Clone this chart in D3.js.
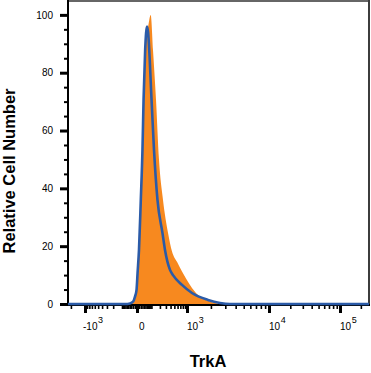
<!DOCTYPE html>
<html>
<head>
<meta charset="utf-8">
<script src="https://cdn.jsdelivr.net/npm/d3@7"></script>
<style>
  body { margin: 0; background: #fff; }
  svg { display: block; font-family: "Liberation Sans", Arial, sans-serif; }
</style>
</head>
<body>
<div id="chart"></div>
<script>
// histogram: fluorescence value -> relative count
var stainedX = [-60, -20, -5, 3, 10, 20, 30, 37, 50, 75, 93, 115, 149, 187, 248, 343, 436, 581, 766, 1093, 1381, 1739, 2246, 2973];
var stainedY = [0, 0.5, 3.5, 11, 18.7, 36, 53.3, 70.6, 88, 97, 100, 88, 70.6, 50, 36, 24.6, 18.2, 14.6, 11.2, 6.6, 3.1, 1.4, 0.35, 0];

var controlX = [-2300, -74, -38, -20, -10, -2.3, 3, 10, 20, 30, 37, 48, 62, 70, 101, 126, 167, 239, 283, 387, 462, 766, 1159, 1841, 2585, 3418, 262144];
var controlY = [0, 0, 0.2, 0.8, 2.5, 4.8, 11, 18.7, 36, 53.3, 70.6, 88, 96, 94, 70.6, 53.3, 36, 24.6, 18.7, 11.8, 10, 6.6, 3.8, 1.4, 0.35, 0, 0];

var yMajor = [0, 20, 40, 60, 80, 100];
var xMajor = [-1000, 0, 1000, 10000, 100000];
var xLabels = [["-10", "3"], ["0", ""], ["10", "3"], ["10", "4"], ["10", "5"]];

var w = 371, h = 373;
var svg = d3.select("#chart").append("svg").attr("width", w).attr("height", h);

// biexponential-ish axis: symlog pieces pinned to the decade positions
var x = d3.scaleSymlog().constant(100)
    .domain([-2300, -1000, 0, 1000, 10000, 100000, 262144])
    .range([68, 85, 137, 187, 269, 340, 369]);
var y = d3.scaleLinear().domain([0, 104.8]).range([304, 1]);

var stained = stainedX.map(function(d, i) { return [d, stainedY[i]]; });
var control = controlX.map(function(d, i) { return [d, controlY[i]]; });

// frame top + right
svg.append("line").attr("x1", 68).attr("x2", 369).attr("y1", 1).attr("y2", 1)
   .attr("stroke", "#666").attr("stroke-width", 2);
svg.append("line").attr("x1", 369).attr("x2", 369).attr("y1", 0).attr("y2", 305)
   .attr("stroke", "#3c3c3c").attr("stroke-width", 2);

// filled histogram
svg.append("path").datum(stained)
   .attr("fill", "#f7891f")
   .attr("d", d3.area().curve(d3.curveMonotoneX)
       .x(function(d) { return x(d[0]); })
       .y0(y(0))
       .y1(function(d) { return y(d[1]); }));

// y axis
var yMinor = d3.range(0, 105, 5).filter(function(d) { return d % 20 != 0; });
svg.append("g").attr("transform", "translate(68,0)")
   .call(d3.axisLeft(y).tickValues(yMinor).tickSize(4).tickFormat(""))
   .call(function(g) { g.select(".domain").remove(); g.selectAll("line").attr("stroke-width", 2); });
var yAx = svg.append("g").attr("transform", "translate(68,0)")
   .call(d3.axisLeft(y).tickValues(yMajor).tickSize(8).tickPadding(7));
yAx.select(".domain").attr("stroke-width", 2).attr("d", "M0,0V305");
yAx.selectAll("line").attr("stroke-width", 3);
yAx.selectAll("text").attr("font-size", 10).attr("fill", "#000");

// x axis minor ticks
var xMinor = [-2000];
[10, 100].forEach(function(b) {
  for (var k = 1; k < 10; k++) { xMinor.push(-b * k); xMinor.push(b * k); }
});
[1000, 10000, 100000].forEach(function(b) {
  for (var k = 2; k < 10; k++) { if (b * k <= 262144) xMinor.push(b * k); }
});
svg.append("g").attr("transform", "translate(0,305)")
   .call(d3.axisBottom(x).tickValues(xMinor).tickSize(4).tickFormat(""))
   .call(function(g) { g.select(".domain").remove(); g.selectAll("line").attr("stroke-width", 1.6); });
var xAx = svg.append("g").attr("transform", "translate(0,305)")
   .call(d3.axisBottom(x).tickValues(xMajor).tickSize(8).tickFormat(""));
xAx.select(".domain").attr("stroke-width", 2).attr("d", "M67,0H370");
xAx.selectAll("line").attr("stroke-width", 3);

// decade labels with superscripts
xMajor.forEach(function(v, i) {
  var t = svg.append("text").attr("x", x(v) - (i == 0 ? 2 : 0) + (i == 1 ? 2 : 0)).attr("y", 330)
     .attr("font-size", 10).attr("fill", "#000");
  t.append("tspan").text(xLabels[i][0]);
  if (xLabels[i][1]) t.append("tspan").attr("dy", -7).attr("dx", 0.5).attr("font-size", 9).text(xLabels[i][1]);
});

// control outline
svg.append("path").datum(control)
   .attr("fill", "none")
   .attr("stroke", "#2b5ba8")
   .attr("stroke-width", 2.6)
   .attr("stroke-linejoin", "round")
   .attr("d", d3.line().curve(d3.curveMonotoneX)
       .x(function(d) { return x(d[0]); })
       .y(function(d) { return y(d[1]); }));

// axis titles
svg.append("text").attr("x", 208).attr("y", 367).attr("text-anchor", "middle")
   .attr("font-size", 16.5).attr("font-weight", "bold").text("TrkA");
svg.append("text").attr("transform", "translate(15,171) rotate(-90)").attr("text-anchor", "middle")
   .attr("font-size", 16.5).attr("font-weight", "bold").text("Relative Cell Number");
</script>
</body>
</html>
